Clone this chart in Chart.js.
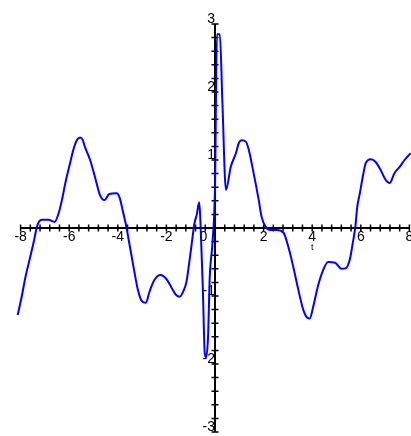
<!DOCTYPE html>
<html>
<head>
<meta charset="utf-8">
<script src="https://cdn.jsdelivr.net/npm/chart.js@4/dist/chart.umd.min.js"></script>
<style>
  html, body { margin: 0; padding: 0; background: #fff; }
  #wrap { width: 411px; height: 436px; }
</style>
</head>
<body>
<div id="wrap"><canvas id="plot"></canvas></div>
<script>
// curve samples
const tValues = [
  -8.12, -7.95, -7.8, -7.62, -7.47, -7.3, -7.1, -6.85, -6.6, -6.45,
  -6.3, -6.16, -5.96, -5.83, -5.67, -5.55, -5.45, -5.35, -5.14, -4.94,
  -4.73, -4.55, -4.35, -4.05, -3.92, -3.8, -3.65, -3.5, -3.33, -3.18,
  -3.0, -2.85, -2.69, -2.49, -2.25, -2.0, -1.8, -1.59, -1.45, -1.33,
  -1.18, -1.06, -0.94, -0.85, -0.75, -0.65, -0.6, -0.5, -0.42, -0.36,
  -0.28, -0.22, -0.1, 0.0, 0.08, 0.2, 0.3, 0.45, 0.65, 0.86,
  0.98, 1.1, 1.27, 1.39, 1.51, 1.67, 1.8, 1.92, 2.08, 2.29,
  2.53, 2.82, 3.02, 3.22, 3.43, 3.63, 3.8, 3.9, 4.04, 4.24,
  4.45, 4.65, 4.94, 5.2, 5.39, 5.55, 5.67, 5.78, 5.85, 5.96,
  6.08, 6.2, 6.41, 6.61, 6.82, 7.02, 7.18, 7.39, 7.6, 7.8, 8.05
];
const yValues = [
  -1.28, -1.0, -0.72, -0.45, -0.22, 0.05, 0.12, 0.12, 0.09, 0.2,
  0.41, 0.66, 0.96, 1.15, 1.3, 1.33, 1.3, 1.19, 1.0, 0.75,
  0.48, 0.41, 0.5, 0.51, 0.44, 0.26, 0.02, -0.28, -0.62, -0.9,
  -1.08, -1.1, -0.93, -0.76, -0.69, -0.75, -0.87, -0.99, -1.01, -0.95,
  -0.8, -0.51, -0.18, 0.06, 0.2, 0.38, 0.1, -0.9, -1.85, -1.9,
  -1.55, -0.75, -0.2, 0.6, 2.85, 2.85, 1.9, 0.56, 0.9, 1.1,
  1.25, 1.29, 1.27, 1.15, 0.95, 0.66, 0.41, 0.16, 0.02, -0.03,
  -0.03, -0.07, -0.28, -0.57, -0.91, -1.2, -1.32, -1.33, -1.16, -0.85,
  -0.62, -0.5, -0.51, -0.6, -0.59, -0.46, -0.22, 0.03, 0.3, 0.51,
  0.75, 0.95, 1.01, 0.97, 0.85, 0.71, 0.66, 0.81, 0.9, 1.0, 1.1
];

// axes run over these ranges, labels every 2 on x and every 1 on y
const xAxisRange = [-8, 8];
const yAxisRange = [-3, 3];
const xMinorStep = 0.4;
const yMinorStep = 0.2;
const axisLabel = 't';

const near = (a, b) => Math.abs(a - b) < 1e-6;

// axes sit inside the plot, so they take no room and no label padding
const noRoom = s => {
  if (s.isHorizontal()) s.height = 0; else s.width = 0;
  s.paddingLeft = s.paddingRight = s.paddingTop = s.paddingBottom = 0;
};

// Maple style axes: lines through the origin with ticks crossing them
const mapleAxes = {
  id: 'mapleAxes',
  beforeDatasetsDraw(chart) {
    const { ctx, scales: { x, y } } = chart;
    const x0 = x.getPixelForValue(0);
    const y0 = y.getPixelForValue(0);
    ctx.save();
    ctx.strokeStyle = '#000';
    ctx.lineWidth = 2;
    ctx.beginPath();
    ctx.moveTo(x.getPixelForValue(xAxisRange[0]), y0);
    ctx.lineTo(x.getPixelForValue(xAxisRange[1]), y0);
    ctx.moveTo(x0, y.getPixelForValue(yAxisRange[1]));
    ctx.lineTo(x0, y.getPixelForValue(yAxisRange[0]));
    ctx.stroke();

    ctx.lineWidth = 1.5;
    ctx.beginPath();
    x.ticks.forEach(t => {
      if (t.value < xAxisRange[0] - 1e-6 || t.value > xAxisRange[1] + 1e-6) return;
      const px = x.getPixelForValue(t.value);
      ctx.moveTo(px, y0 - 3.5);
      ctx.lineTo(px, y0 + 3.5);
    });
    y.ticks.forEach(t => {
      if (t.value < yAxisRange[0] - 1e-6 || t.value > yAxisRange[1] + 1e-6) return;
      const py = y.getPixelForValue(t.value);
      ctx.moveTo(x0 - 3.5, py);
      ctx.lineTo(x0 + 3.5, py);
    });
    ctx.stroke();

    ctx.fillStyle = '#000';
    ctx.font = '9px "Liberation Sans"';
    ctx.textAlign = 'center';
    ctx.textBaseline = 'middle';
    ctx.fillText(axisLabel, x.getPixelForValue(4), y0 + 20);
    ctx.restore();
  }
};

new Chart(document.getElementById('plot'), {
  type: 'scatter',
  data: {
    datasets: [{
      data: tValues.map((t, i) => ({ x: t, y: yValues[i] })),
      showLine: true,
      borderColor: '#0000ff',
      borderWidth: 2,
      pointRadius: 0,
      cubicInterpolationMode: 'monotone',
      fill: false
    }]
  },
  options: {
    responsive: true,
    maintainAspectRatio: false,
    animation: false,
    layout: { padding: 0 },
    plugins: { legend: { display: false }, tooltip: { enabled: false } },
    scales: {
      x: {
        type: 'linear',
        position: { y: 0 },
        min: -8.848,
        max: 8.066,
        afterFit: noRoom,
        grid: { display: false, drawTicks: false },
        border: { display: false },
        ticks: {
          stepSize: xMinorStep,
          includeBounds: false,
          autoSkip: false,
          maxRotation: 0,
          padding: 1,
          color: '#000',
          font: { family: '"Liberation Sans"', size: 14 },
          callback: v => {
            if (v < xAxisRange[0] - 1e-6 || v > xAxisRange[1] + 1e-6) return '';
            if (!near(v / 2, Math.round(v / 2))) return '';
            const n = Math.round(v);
            return n === 0 ? '0      ' : String(n);
          }
        }
      },
      y: {
        type: 'linear',
        position: { x: 0 },
        min: -3.059,
        max: 3.353,
        afterFit: noRoom,
        grid: { display: false, drawTicks: false },
        border: { display: false },
        ticks: {
          stepSize: yMinorStep,
          includeBounds: false,
          autoSkip: false,
          padding: 6,
          labelOffset: -5,
          color: '#000',
          font: { family: '"Liberation Sans"', size: 14 },
          callback: v => {
            if (v < yAxisRange[0] - 1e-6 || v > yAxisRange[1] + 1e-6) return '';
            const n = Math.round(v);
            if (!near(v, n) || n === 0) return '';
            return String(n);
          }
        }
      }
    }
  },
  plugins: [mapleAxes]
});
</script>
</body>
</html>
